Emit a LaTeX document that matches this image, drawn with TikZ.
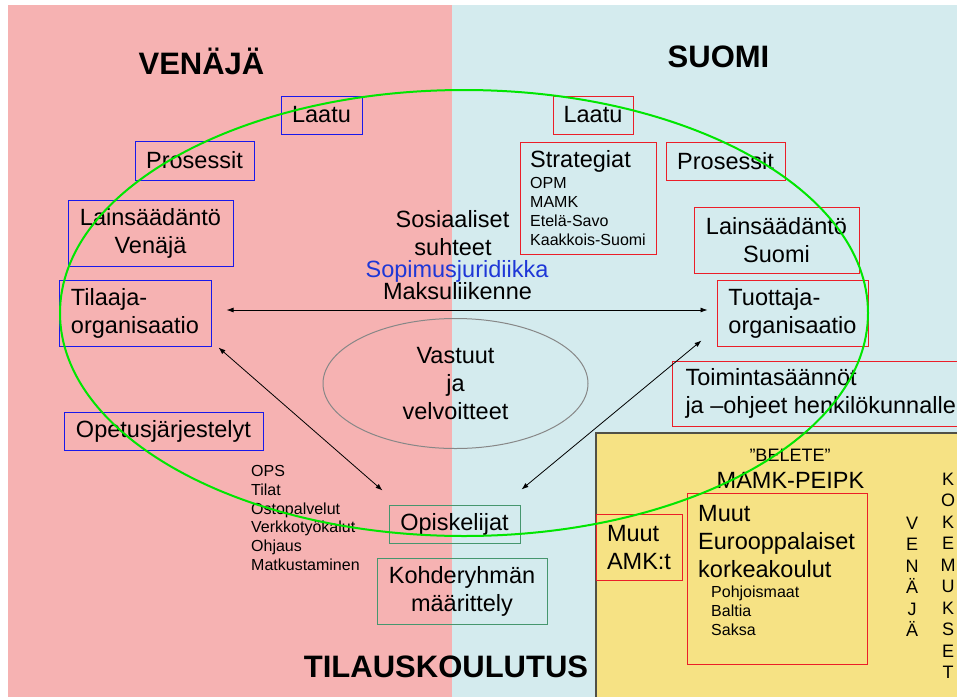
\documentclass[tikz,border=0pt]{standalone}
\usepackage{fontspec}
\setmainfont{Liberation Sans}
\usepackage{tikz}
\usetikzlibrary{arrows.meta}
\usetikzlibrary{shapes.geometric}
\usetikzlibrary{calc}

\definecolor{pinkbg}{RGB}{246,178,178}
\definecolor{bluebg}{RGB}{212,235,238}
\definecolor{yellowbg}{RGB}{246,226,132}
\definecolor{yellowline}{RGB}{80,80,70}
\definecolor{boxblue}{RGB}{25,25,235}
\definecolor{boxred}{RGB}{235,30,40}
\definecolor{boxgreen}{RGB}{70,150,110}
\definecolor{ringgreen}{RGB}{0,230,0}
\definecolor{ringgray}{RGB}{135,135,135}
\definecolor{sopblue}{RGB}{30,55,215}

\newcommand\titlesize{\fontsize{31}{36}\selectfont\bfseries}
\newcommand\boxsize{\fontsize{23.5}{28}\selectfont}
\newcommand\listsize{\fontsize{16}{18.7}\selectfont}
\newcommand\lettersize{\fontsize{18}{21.5}\selectfont}

\begin{document}
\begin{tikzpicture}[x=1pt, y=-1pt,
                    bx/.style={draw, line width=1pt, inner sep=0pt, font=\boxsize, align=center},
                    vbox/.style={bx, draw=boxblue},
                    rbox/.style={bx, draw=boxred},
                    gbox/.style={bx, draw=boxgreen},
                    titletext/.style={font=\titlesize, anchor=base, inner sep=0pt},
                    midtext/.style={font=\boxsize, anchor=base, inner sep=0pt},
                    listtext/.style={font=\listsize, align=left, anchor=north west, inner sep=0pt},
                    letters/.style={font=\lettersize, align=center, anchor=north, inner sep=0pt},
                    arr/.style={{Latex[length=7pt,width=5pt]}-{Latex[length=7pt,width=5pt]}, line width=0.8pt}]
      \useasboundingbox (0,0) rectangle (957,696);
      \fill[white] (0,0) rectangle (957,696);
      \fill[pinkbg] (8,5) rectangle (452,700);
      \fill[bluebg] (452,5) rectangle (960,700);
      \draw[yellowline, fill=yellowbg, line width=1.2pt] (596,433) rectangle (975,715);

      \node[titletext] (venaja) at (201.5,74) {VENÄJÄ};
      \node[titletext] (suomi) at (718.5,67) {SUOMI};
      \node[titletext] (tilaus) at (446,677) {TILAUSKOULUTUS};

      \node[vbox, minimum width=81, minimum height=38] (laatuV) at (321.5,115) {Laatu};
      \node[vbox, minimum width=119, minimum height=39] (prosessitV) at (194.5,160.5) {Prosessit};
      \node[vbox, minimum width=165, minimum height=66] (lakiV) at (150.5,233) {Lainsäädäntö\\Venäjä};
      \node[vbox, minimum width=152, minimum height=66, align=left] (tilaaja) at (135,313) {Tilaaja-\\organisaatio};
      \node[vbox, minimum width=199, minimum height=38] (opetus) at (163.5,431) {Opetusjärjestelyt};

      \node[rbox, minimum width=80, minimum height=38] (laatuS) at (593,115) {Laatu};
      \node[rbox, minimum width=136, minimum height=112, align=left] (strategiat) at (588,198)
        {Strategiat\\[-7pt]{\listsize OPM}\\[-9pt]{\listsize MAMK}\\[-9pt]{\listsize Etelä-Savo}\\[-9pt]{\listsize Kaakkois-Suomi}};
      \node[rbox, minimum width=119, minimum height=38] (prosessitS) at (725.5,161) {Prosessit};
      \node[rbox, minimum width=165, minimum height=66] (lakiS) at (776.5,240) {Lainsäädäntö\\Suomi};
      \node[rbox, minimum width=151, minimum height=66, align=left] (tuottaja) at (792.5,313) {Tuottaja-\\organisaatio};
      \node[rbox, minimum height=65, inner xsep=13pt, align=left, anchor=west] (toiminta) at (672,393.5)
        {Toimintasäännöt\\ja –ohjeet henkilökunnalle};
      \node[rbox, minimum width=86, minimum height=66, align=left] (muutAMK) at (639,547) {Muut\\AMK:t};
      \node[rbox, minimum width=180, minimum height=171] (eurooppa) at (777,578.5) {};
      \node[listtext, font=\boxsize] (eurooppaText) at (698,504.7)
        {Muut\\Eurooppalaiset\\korkeakoulut\\[-7.5pt]{\listsize\hspace*{13pt}Pohjoismaat}\\[-9pt]{\listsize\hspace*{13pt}Baltia}\\[-9pt]{\listsize\hspace*{13pt}Saksa}};

      \node[gbox, minimum width=131, minimum height=38] (opiskelijat) at (454.5,524) {Opiskelijat};
      \node[gbox, minimum width=170, minimum height=66] (kohde) at (462,591) {Kohderyhmän\\määrittely};

      \node[ellipse, draw=ringgray, line width=1pt, minimum width=265, minimum height=130, inner sep=0pt,
            font=\boxsize, align=center] (vastuut) at (455.5,383.5) {Vastuut\\ja\\velvoitteet};

      \node[midtext] (sosiaaliset) at (452.5,227) {Sosiaaliset};
      \node[midtext] (suhteet) at (453,255) {suhteet};
      \node[midtext, text=sopblue] (sopimus) at (457,277) {Sopimusjuridiikka};
      \node[midtext] (maksu) at (457.5,299.5) {Maksuliikenne};

      \node[listtext] (ops) at (251,465.5) {OPS\\Tilat\\Ostopalvelut\\Verkkotyökalut\\Ohjaus\\Matkustaminen};

      \node[midtext, font=\fontsize{18}{21}\selectfont] (belete) at (790,461) {”BELETE”};
      \node[midtext] (peipk) at (790.5,488) {MAMK-PEIPK};
      \node[letters] (venajaCol) at (912,516.5) {V\\E\\N\\Ä\\J\\Ä};
      \node[letters] (kokemukset) at (948,472.6) {K\\O\\K\\E\\M\\U\\K\\S\\E\\T};

      \draw[ringgreen, line width=2pt] (464,313) ellipse [x radius=404pt, y radius=223pt];

      \draw[arr] ($(tilaaja.east)+(15,-3)$) -- ($(tuottaja.west)+(-9,-3)$);
      \draw[arr] ($(tilaaja.south east)+(7,1)$) -- ($(opiskelijat.north west)+(-6,-14)$);
      \draw[arr] ($(tuottaja.south west)+(-15,-6)$) -- ($(opiskelijat.north east)+(1,-15)$);
    \end{tikzpicture}
\end{document}
